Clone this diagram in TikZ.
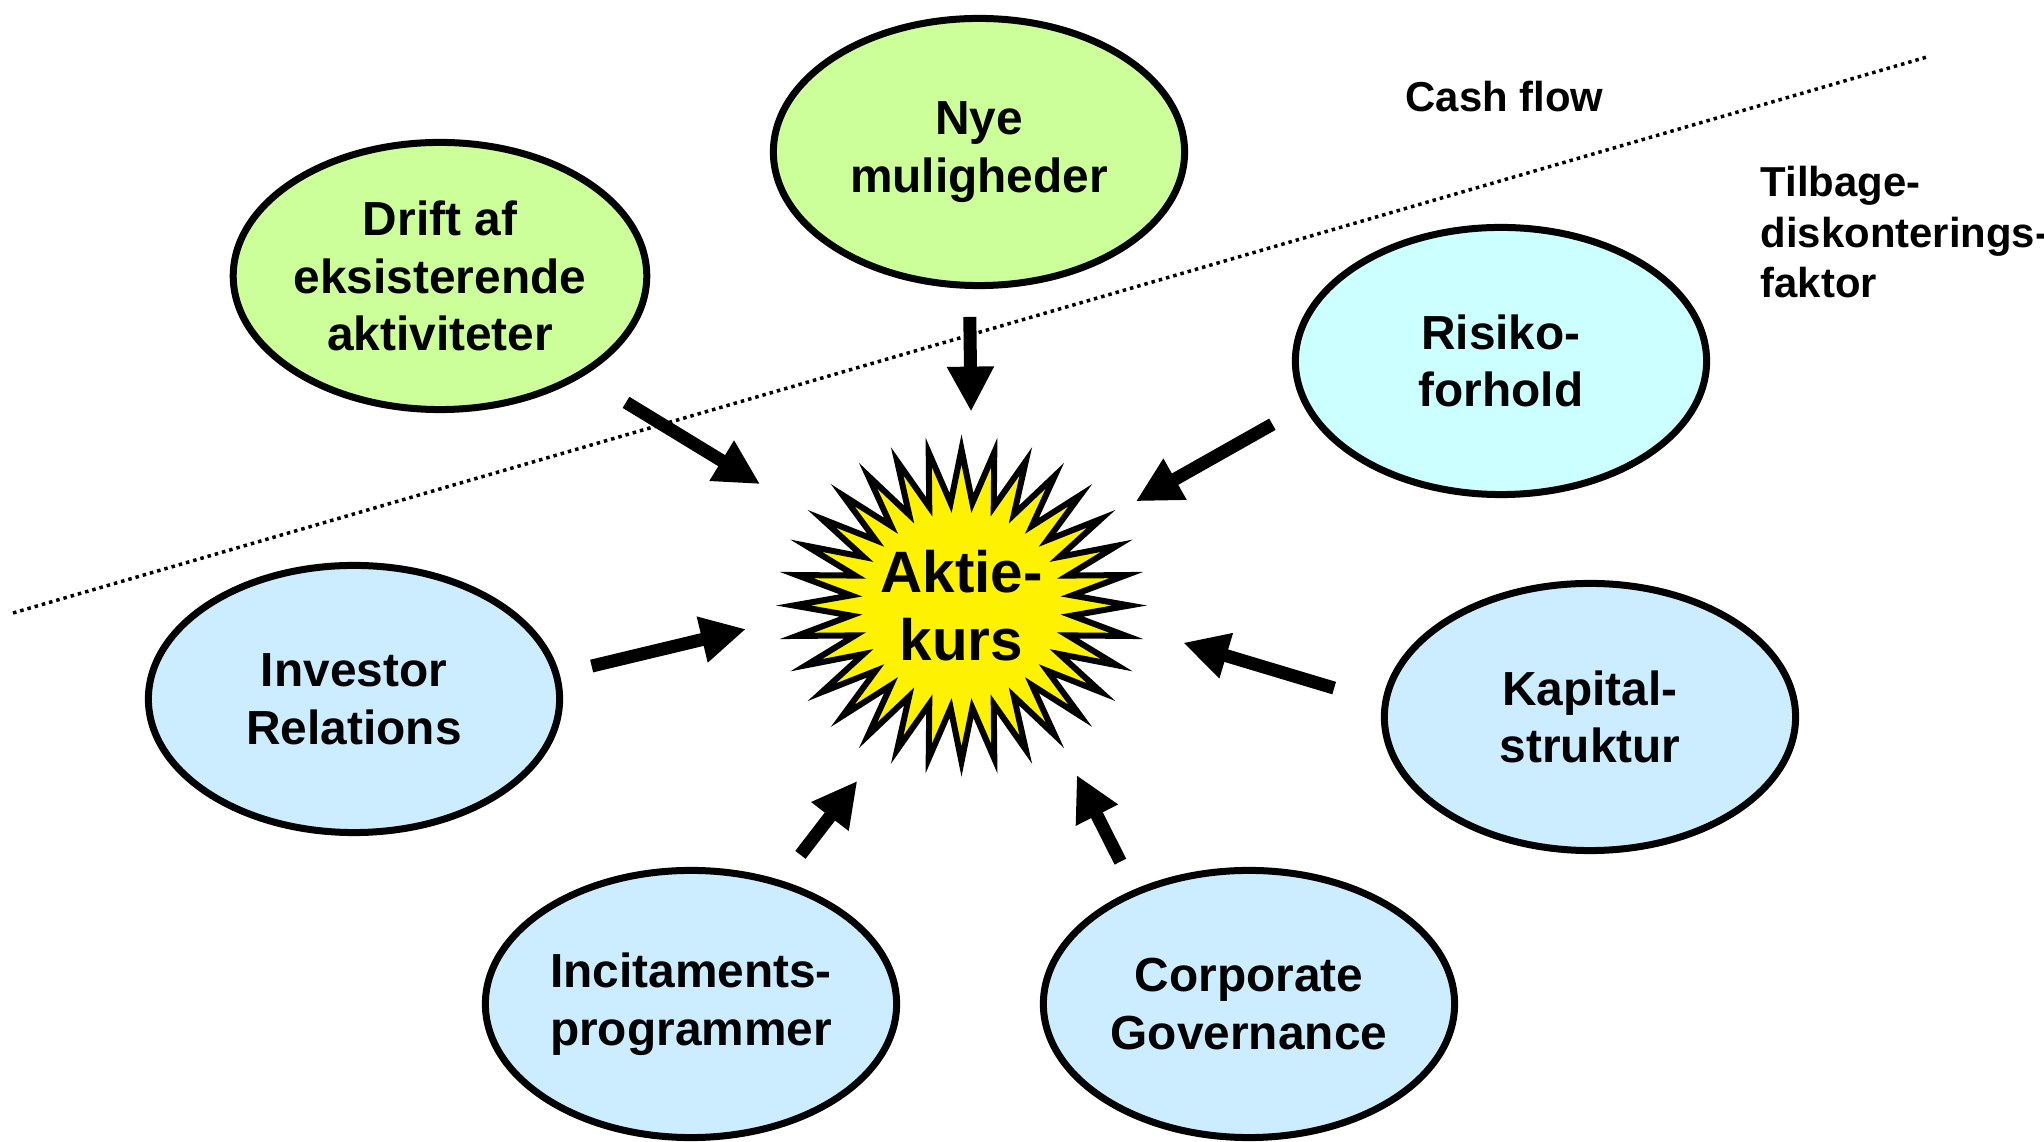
\documentclass[tikz,border=0pt]{standalone}
\usepackage{fontspec}
\setmainfont{Liberation Sans}
\usetikzlibrary{shapes.geometric,arrows.meta}
\definecolor{groen}{HTML}{CCFF99}
\definecolor{lysblaa}{HTML}{CCECFF}
\definecolor{turkis}{HTML}{CCFFFF}

\begin{document}
\begin{tikzpicture}[x=0.01cm,y=0.01cm]
\tikzset{boble/.style={draw, ellipse, line width=0.07cm, inner sep=0pt, minimum width=4.11cm, minimum height=2.67cm, align=center, font=\fontsize{13.6pt}{16.4pt}\selectfont\bfseries},
pil/.style={line width=0.13cm, -{Triangle[width=0.44cm,length=0.45cm]}},
tekst/.style={inner sep=0pt, align=left, font=\fontsize{11.9pt}{14.5pt}\selectfont\bfseries}}
\useasboundingbox (0,0) rectangle (2044,1142);
\clip (0,0) rectangle (2044,1142);
% skillelinje
\draw[line width=0.035cm, dash pattern=on 0.035cm off 0.04cm] (13,529) -- (1927,1085);
% stjernen
\begin{scope}[shift={(961.5,536.5)}]
\draw[line width=0.06cm, fill=yellow] (90:1.68cm and 1.56cm) \foreach \i in {0,...,31} {-- ({95.625+\i*11.25}:1.11cm and 1.03cm) -- ({101.25+\i*11.25}:1.68cm and 1.56cm)} -- cycle;
\end{scope}
\node[circle, minimum size=3.7cm, inner sep=0pt, outer sep=0pt, align=center, font=\fontsize{16.6pt}{19.5pt}\selectfont\bfseries] (kurs) at (961.5,536.5) {Aktie-\\kurs};
\node[boble, fill=groen] (drift) at (440,866) {Drift af\\eksisterende\\aktiviteter};
\node[boble, fill=groen] (nye) at (979,990) {Nye\\muligheder};
\node[boble, fill=turkis] (risiko) at (1501,781) {Risiko-\\forhold};
\node[boble, fill=lysblaa] (investor) at (354,443) {Investor\\Relations};
\node[boble, fill=lysblaa] (kapital) at (1590,425) {Kapital-\\struktur};
\node[boble, fill=lysblaa] (incit) at (691,138) {Incitaments-\\programmer};
\node[boble, fill=lysblaa] (corporate) at (1249,138) {Corporate\\Governance};
\node[tekst, anchor=base west] (cash) at (1405,1030) {Cash flow};
\node[tekst, anchor=north west] (tilbage) at (1760,977) {Tilbage-\\diskonterings-\\faktor};
\draw[pil, shorten <=0.5cm, shorten >=0.5cm] (drift.-35) -- (kurs.149);
\draw[pil, shorten <=0.28cm, shorten >=0.09cm] (nye.-94) -- (kurs.87);
\draw[pil, shorten <=0.36cm, shorten >=0.18cm] (risiko.193) -- (kurs.31);
\draw[pil, shorten <=0.33cm, shorten >=0.32cm] (investor.7) -- (kurs.185);
\draw[pil, shorten <=0.5cm, shorten >=0.4cm] (kapital.176) -- (kurs.-8);
\draw[pil, shorten <=0.32cm, shorten >=0.19cm] (incit.54) -- (kurs.240);
\draw[pil, shorten <=0.31cm, shorten >=0.2cm] (corporate.135) -- (kurs.305);
\end{tikzpicture}
\end{document}
